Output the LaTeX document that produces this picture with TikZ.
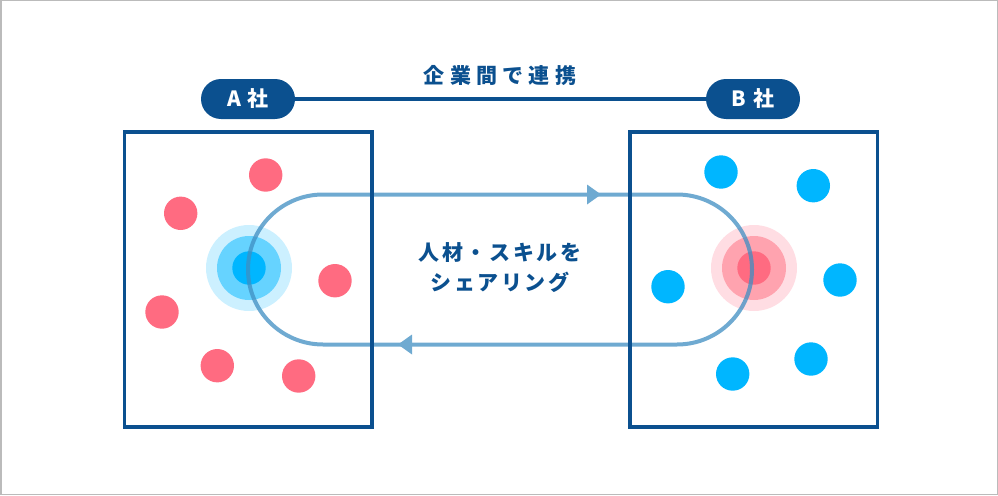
\documentclass[tikz,border=0pt]{standalone}
\usepackage{fontspec}
\newfontfamily\cjk{Noto Sans CJK JP}
\definecolor{navy}{HTML}{0B508F}
\definecolor{loopc}{RGB}{63,142,194}
\definecolor{loopsolid}{HTML}{6FAAD1}
\definecolor{pinkdot}{HTML}{FF6B81}
\definecolor{pinkmid}{HTML}{FFA3AF}
\definecolor{pinkout}{HTML}{FFDDE3}
\definecolor{bluedot}{HTML}{00B6FF}
\definecolor{bluemid}{HTML}{66D3FF}
\definecolor{blueout}{HTML}{CCF0FF}
\definecolor{frame}{HTML}{BBBBBB}
\tikzset{
  pill/.style={rectangle, rounded corners=20pt, fill=navy, text=white,
    minimum width=94pt, minimum height=40pt, inner sep=0pt,
    font=\cjk\bfseries\fontsize{21}{21}\selectfont},
  titletext/.style={text=navy, inner sep=0pt,
    font=\cjk\bfseries\fontsize{21}{21}\selectfont\addfontfeatures{LetterSpace=25}},
  centertext/.style={text=navy, inner sep=0pt, align=center,
    font=\cjk\bfseries\fontsize{21}{30}\selectfont\addfontfeatures{LetterSpace=12}},
  company/.style={draw=navy, line width=3.5pt, minimum width=247.5pt, minimum height=295pt, inner sep=0pt},
  dot/.style={circle, inner sep=0pt, minimum size=33.4pt, fill=#1},
  ring/.style={circle, inner sep=0pt, fill=#1},
  loopline/.style={draw=loopc, line width=4pt, opacity=0.75},
  arrowtip/.style={fill=loopsolid},
}
\begin{document}
\begin{tikzpicture}[x=1pt,y=-1pt]
\useasboundingbox (0,0) rectangle (998,495);
\draw[frame, line width=1.5pt] (0.75,0.75) rectangle (997.25,494.25);

% pills and connection
\node[pill] (A) at (248,99) {A\hspace{7pt}社};
\node[pill] (B) at (753,99) {B\hspace{7pt}社};
\draw[navy, line width=4pt] (A) -- (B);
\node[titletext] (title) at (500,75) {企業間で連携};

% left box dots (pink)
\node[dot=pinkdot] (a1) at (265.7,175) {};
\node[dot=pinkdot] (a2) at (180.7,213.3) {};
\node[dot=pinkdot] (a3) at (335,280.7) {};
\node[dot=pinkdot] (a4) at (162,312) {};
\node[dot=pinkdot] (a5) at (217.3,365.7) {};
\node[dot=pinkdot] (a6) at (298.7,376) {};
% left centre (blue)
\node[ring=blueout, minimum size=86pt] (ca3) at (249,268) {};
\node[ring=bluemid, minimum size=64pt] (ca2) at (249,268) {};
\node[ring=bluedot, minimum size=33.4pt] (ca1) at (249,268) {};

% right box dots (blue)
\node[dot=bluedot] (b1) at (721,172) {};
\node[dot=bluedot] (b2) at (813.3,185.7) {};
\node[dot=bluedot] (b3) at (668,286.7) {};
\node[dot=bluedot] (b4) at (840,280) {};
\node[dot=bluedot] (b5) at (732.7,374) {};
\node[dot=bluedot] (b6) at (811,359) {};
% right centre (pink)
\node[ring=pinkout, minimum size=86pt] (cb3) at (754,268) {};
\node[ring=pinkmid, minimum size=64pt] (cb2) at (754,268) {};
\node[ring=pinkdot, minimum size=33.4pt] (cb1) at (754,268) {};

% sharing loop
\coordinate (lt) at (323,194.5);
\coordinate (rt) at (677,194.5);
\coordinate (rb) at (677,344.5);
\coordinate (lb) at (323,344.5);
\draw[loopline] (lt) -- (rt) arc[start angle=-90, end angle=90, radius=75]
  -- (lb) arc[start angle=90, end angle=270, radius=75] -- cycle;
\fill[arrowtip] (601,194.5) -- (587,184.5) -- (587,204.5) -- cycle;
\fill[arrowtip] (398,344.5) -- (412,334.5) -- (412,354.5) -- cycle;

% company boxes
\node[company] (boxA) at (248.25,279.5) {};
\node[company] (boxB) at (753.85,279.5) {};

\node[centertext] (share) at (500,268) {人材・スキルを\\シェアリング};
\end{tikzpicture}
\end{document}
